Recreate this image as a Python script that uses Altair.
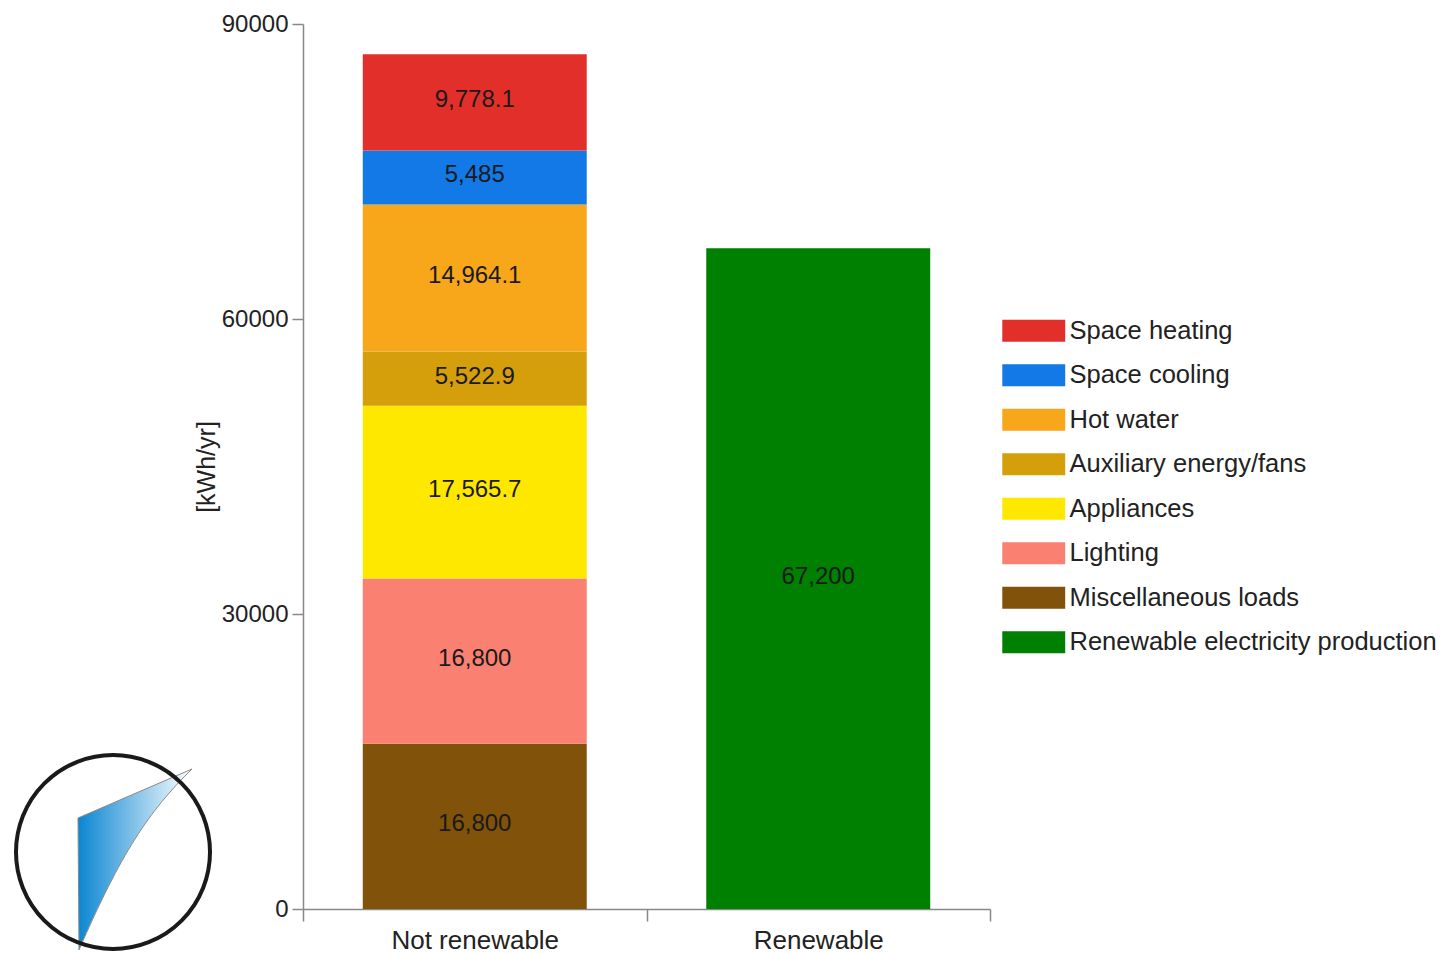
import altair as alt
import pandas as pd

FONT = "Liberation Sans"

# ---- data ----
categories = ["Not renewable"] * 7 + ["Renewable"]
segments = [
    "Miscellaneous loads", "Lighting", "Appliances", "Auxiliary energy/fans",
    "Hot water", "Space cooling", "Space heating", "Renewable electricity production",
]
values = [16800, 16800, 17565.7, 5522.9, 14964.1, 5485, 9778.1, 67200]
stack_rank = [1, 2, 3, 4, 5, 6, 7, 1]

category_order = ["Not renewable", "Renewable"]
legend_order = [
    "Space heating", "Space cooling", "Hot water", "Auxiliary energy/fans",
    "Appliances", "Lighting", "Miscellaneous loads", "Renewable electricity production",
]
legend_colors = ["#E32F2A", "#1279E6", "#F9A71A", "#D49F0B", "#FFE800", "#FA8072", "#80520A", "#008000"]
y_ticks = [0, 30000, 60000, 90000]

df = pd.DataFrame({"category": categories, "segment": segments, "value": values, "rank": stack_rank})

# ---- shared encodings ----
x_enc = alt.X(
    "category:N", title=None, sort=category_order,
    scale=alt.Scale(paddingInner=0, paddingOuter=0),
    axis=alt.Axis(
        labelAngle=0, tickBand="extent", tickSize=12, labelPadding=6,
        labelFont=FONT, labelFontSize=26, labelColor="#222222",
        domainColor="#888888", tickColor="#888888", domainWidth=1.5, tickWidth=1.5,
    ),
)
y_axis = alt.Axis(
    values=y_ticks, format="d", grid=False, tickSize=11, labelPadding=4,
    labelFont=FONT, labelFontSize=24, labelColor="#222222",
    domainColor="#888888", tickColor="#888888", domainWidth=1.5, tickWidth=1.5,
    titleFont=FONT, titleFontSize=25, titleFontWeight="normal", titleColor="#222222",
    titlePadding=2,
)
y_scale = alt.Scale(domain=[0, 90000], nice=False)

BOX = "M-2.86,-1H2.86V1H-2.86Z"

bars = alt.Chart(df).mark_bar(width=alt.RelativeBandSize(0.652)).encode(
    x=x_enc,
    y=alt.Y("value:Q", stack="zero", title="[kWh/yr]", scale=y_scale, axis=y_axis),
    color=alt.Color(
        "segment:N",
        scale=alt.Scale(domain=legend_order, range=legend_colors),
        legend=alt.Legend(
            title=None, orient="none", legendX=718, legendY=294,
            symbolType=BOX, symbolSize=484, symbolStrokeWidth=0, symbolOpacity=1,
            labelFont=FONT, labelFontSize=25.5, labelColor="#222222",
            labelOffset=23, rowPadding=17.5, padding=0, labelLimit=600,
        ),
    ),
    order=alt.Order("rank:Q"),
)

labels = alt.Chart(df).transform_stack(
    stack="value", groupby=["category"], as_=["v0", "v1"],
    sort=[alt.SortField("rank", order="ascending")],
).transform_calculate(
    mid="(datum.v0 + datum.v1) / 2"
).mark_text(
    font=FONT, fontSize=24, color="#1a1a1a", align="center", baseline="middle", dy=-2
).encode(
    x=x_enc,
    y=alt.Y("mid:Q", title="[kWh/yr]", scale=y_scale, axis=y_axis),
    text=alt.Text("value:Q", format=",.1~f"),
)

# ---- decorative logo ----
logo_df = pd.DataFrame({"logo": ["mark"]})
BLADE = "M-35,-33L79,-82C36,-40,8,2,-34,99Z"
gradient = alt.LinearGradient(
    gradient="linear",
    stops=[alt.GradientStop(color="#0A86D2", offset=0), alt.GradientStop(color="#FFFFFF", offset=1)],
    x1=0, x2=1, y1=0, y2=0,
)
blade = alt.Chart(logo_df).mark_point(
    shape=BLADE, size=4, filled=True, fill=gradient, stroke="#8a8a8a", strokeWidth=1, opacity=1
).encode(x=alt.value(-190), y=alt.value(827))
ring = alt.Chart(logo_df).mark_point(
    shape="circle", size=37636, filled=False, stroke="#1a1a1a", strokeWidth=4, opacity=1
).encode(x=alt.value(-190), y=alt.value(828))

chart = alt.layer(bars, labels, blade, ring).properties(
    width=687, height=885,
    padding={"left": 295, "top": 16, "right": 446, "bottom": 44},
    autosize=alt.AutoSizeParams(type="none"),
    background="white",
).configure_view(strokeWidth=0)

chart.save("out.html", embed_options={"renderer": "svg", "actions": False})
